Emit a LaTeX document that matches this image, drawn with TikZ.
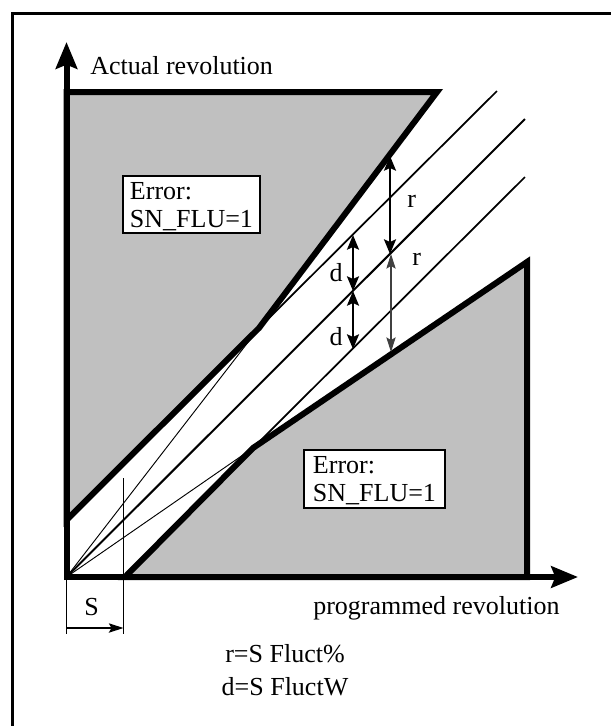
\documentclass[tikz,border=0pt]{standalone}
\usepackage{fontspec}
\setmainfont{Liberation Serif}
\usetikzlibrary{arrows.meta}
\definecolor{graybg}{RGB}{192,192,192}
\begin{document}
\begin{tikzpicture}[x=0.75pt,y=-0.75pt,
  every node/.style={font=\fontsize{19.5}{21}\selectfont, inner sep=0pt},
  region/.style={fill=graybg, draw=black, line width=4.5pt, line join=miter},
  axis/.style={line width=4.5pt, -{Stealth[length=20pt,width=16pt,inset=3pt]}},
  guide/.style={line width=1.3pt},
  ray/.style={line width=0.7pt},
  dimthick/.style={line width=1.5pt, {Stealth[length=11pt,width=9pt,inset=2pt]}-{Stealth[length=11pt,width=9pt,inset=2pt]}},
  dimthin/.style={line width=0.8pt, draw=black!75, {Stealth[length=11pt,width=7pt,inset=2pt]}-{Stealth[length=11pt,width=7pt,inset=2pt]}},
  errbox/.style={draw, fill=white, line width=0.8pt, align=left, text depth=0pt}
]
\useasboundingbox (0,0) rectangle (611,726);
% frame (top and left visible)
\draw[line width=2.25pt] (12.5,726) -- (12.5,13) -- (611,13);

% key coordinates
\coordinate (O) at (66.5,577);
\coordinate (Ytop) at (66.5,42);
\coordinate (Xend) at (578,577);
\coordinate (UK) at (259,328);
\coordinate (LK) at (253,448);
\coordinate (Aend) at (497,91);
\coordinate (Bend) at (525,119);
\coordinate (Cend) at (525,177);

% error regions
\draw[region] (66.5,92) -- (437,92) -- (UK) -- (66.5,520) -- cycle;
\draw[region] (125,577) -- (LK) -- (527,262) -- (527,577) -- cycle;

% guide lines
\draw[guide] (UK) -- (Aend);
\draw[line width=1.5pt] (O) -- (Bend);
\draw[guide] (LK) -- (Cend);
\draw[ray] (O) -- (UK);
\draw[ray] (O) -- (LK);

% S marker
\coordinate (Stop) at (123.5,478);
\coordinate (Sbot) at (123.5,634);
\coordinate (Otick) at (66.5,634);
\draw[line width=1.1pt] (Stop) -- (Sbot);
\draw[line width=0.9pt] (O) -- (Otick);
\coordinate (SA) at (66.5,628);
\coordinate (SB) at (123.5,628);
\draw[line width=0.9pt, -{Stealth[length=11pt,width=7pt,inset=2pt]}] (SA) -- (SB);
\node[anchor=base] (slab) at (91.7,615) {S};

% dimension arrows
\coordinate (r1a) at (390,156); \coordinate (r1b) at (390,254);
\coordinate (r2a) at (391,254); \coordinate (r2b) at (391,352);
\coordinate (d1a) at (353,235); \coordinate (d1b) at (353,291);
\coordinate (d2a) at (353,291); \coordinate (d2b) at (353,349);
\draw[dimthick] (r1a) -- (r1b);
\draw[dimthin] (r2a) -- (r2b);
\draw[dimthick] (d1a) -- (d1b);
\draw[dimthick] (d2a) -- (d2b);
\node (rl1) at (411.7,201.7) {r};
\node (rl2) at (416.7,259.5) {r};
\node (dl1) at (336,273) {d};
\node (dl2) at (336,337) {d};

% axes
\draw[axis] (66.5,580) -- (Ytop);
\draw[axis] (64,577) -- (Xend);
\node[anchor=base west] (ylab) at (90,74) {Actual revolution};
\node[anchor=base west] (xlab) at (313,614) {programmed revolution};

% error boxes
\node[errbox, minimum width=102.75pt, minimum height=42.75pt] (err1) at (191.5,204.5) {Error:\\SN\_FLU=1};
\node[errbox, minimum width=105.75pt, minimum height=43.5pt] (err2) at (374.5,479) {Error:\\SN\_FLU=1};

% formulas
\node[anchor=base] (f1) at (285,662) {r=S Fluct\%};
\node[anchor=base] (f2) at (285,695) {d=S FluctW};
\end{tikzpicture}
\end{document}
